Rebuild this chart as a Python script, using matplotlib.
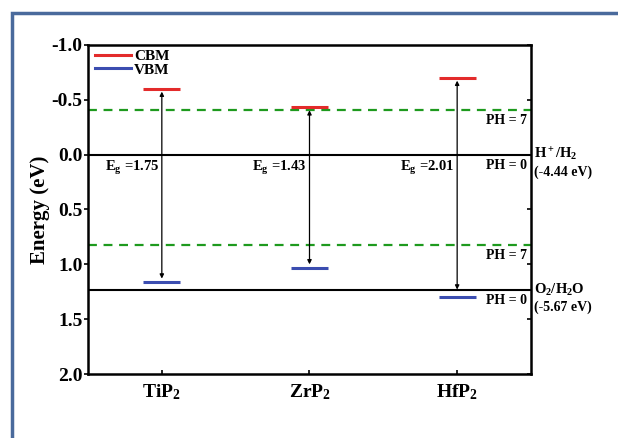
import matplotlib.pyplot as plt
from matplotlib.lines import Line2D
from matplotlib.patches import Rectangle

plt.rcParams["font.family"] = ["Liberation Serif", "DejaVu Serif"]
plt.rcParams["font.weight"] = "bold"
plt.rcParams["axes.labelweight"] = "bold"
plt.rcParams["axes.unicode_minus"] = False
plt.rcParams["mathtext.fontset"] = "custom"
plt.rcParams["mathtext.rm"] = "Liberation Serif:bold"
plt.rcParams["mathtext.it"] = "Liberation Serif:bold"
plt.rcParams["mathtext.bf"] = "Liberation Serif:bold"

# band edges vs NHE (eV)
materials = ["TiP$_2$", "ZrP$_2$", "HfP$_2$"]
cbm = [-0.60, -0.43, -0.70]
vbm = [1.16, 1.03, 1.30]
arrow_bottom = [1.13, 1.00, 1.23]
gap_labels = ["1.75", "1.43", "2.01"]

# water redox levels
redox_ph0 = [0.0, 1.23]
redox_ph7 = [-0.41, 0.82]
redox_names = ["H$^+$/H$_2$", "O$_2$/H$_2$O"]
redox_abs = ["(-4.44 eV)", "(-5.67 eV)"]

y_ticks = [-1.0, -0.5, 0.0, 0.5, 1.0, 1.5, 2.0]

red = "#e32b2b"
blue = "#3b4db0"
green = "#1e9a1e"

fig = plt.figure(figsize=(6.18, 4.38), dpi=100)
ax = fig.add_axes([0.1424, 0.1461, 0.7168, 0.7512])

x = list(range(len(materials)))
half = 0.125

for i in x:
    ax.hlines(cbm[i], i - half, i + half, colors=red, lw=2.2, zorder=3)
    ax.hlines(vbm[i], i - half, i + half, colors=blue, lw=2.2, zorder=3)
    ax.annotate("", xy=(i, arrow_bottom[i]), xytext=(i, cbm[i]),
                arrowprops=dict(arrowstyle="<|-|>", color="black", lw=0.9,
                                mutation_scale=6, shrinkA=2, shrinkB=0))
    ax.annotate(r"E$_\mathrm{g}$ =" + gap_labels[i], xy=(i, 0), xytext=(-2, -3),
                textcoords="offset points", ha="right", va="top", fontsize=10.5)

for val in redox_ph0:
    ax.axhline(val, color="black", lw=1.5, zorder=2)
    ax.annotate("PH = 0", xy=(1, val), xycoords=("axes fraction", "data"),
                xytext=(-3, -3), textcoords="offset points",
                ha="right", va="top", fontsize=10)
for val in redox_ph7:
    ax.axhline(val, color=green, lw=1.6, ls=(0, (4, 3)), zorder=2)
    ax.annotate("PH = 7", xy=(1, val), xycoords=("axes fraction", "data"),
                xytext=(-3, -3), textcoords="offset points",
                ha="right", va="top", fontsize=10)

for val, name, ev in zip(redox_ph0, redox_names, redox_abs):
    ax.annotate(name, xy=(1, val), xycoords=("axes fraction", "data"),
                xytext=(2, 0), textcoords="offset points",
                ha="left", va="center", fontsize=10.5, annotation_clip=False)
    ax.annotate(ev, xy=(1, val), xycoords=("axes fraction", "data"),
                xytext=(2, -13), textcoords="offset points",
                ha="left", va="center", fontsize=10, annotation_clip=False)

ax.set_xlim(-0.5, 2.5)
ax.set_ylim(2.0, -1.0)
ax.set_yticks(y_ticks)
ax.set_yticklabels([f"{t:.1f}" for t in y_ticks], fontsize=14)
ax.set_xticks(x)
ax.set_xticklabels(materials, fontsize=14)
ax.set_ylabel("Energy (eV)", fontsize=15, labelpad=1)

ax.tick_params(axis="y", direction="out", length=3, width=1.2, pad=1)
ax.tick_params(axis="x", direction="in", length=3, width=1.2, pad=6)
ax.tick_params(axis="y", which="both", right=True)
for t in ax.yaxis.get_major_ticks():
    t.tick2line.set_marker(0)
    t.tick2line.set_markersize(3)
for s in ax.spines.values():
    s.set_linewidth(1.8)

handles = [Line2D([], [], color=red, lw=2.2), Line2D([], [], color=blue, lw=2.2)]
ax.legend(handles, ["CBM", "VBM"], loc="upper left", bbox_to_anchor=(0, 1.008),
          frameon=False, fontsize=11, handlelength=2.35, handletextpad=0.2,
          labelspacing=0.0, borderaxespad=0.45, borderpad=0.0)

fig.patches.append(Rectangle((12 / 618, -0.05), 1.2, 425 / 438 + 0.05,
                             transform=fig.transFigure, fill=False,
                             edgecolor="#4a6a9c", lw=2.5))

fig.savefig("out.png", dpi=100)
